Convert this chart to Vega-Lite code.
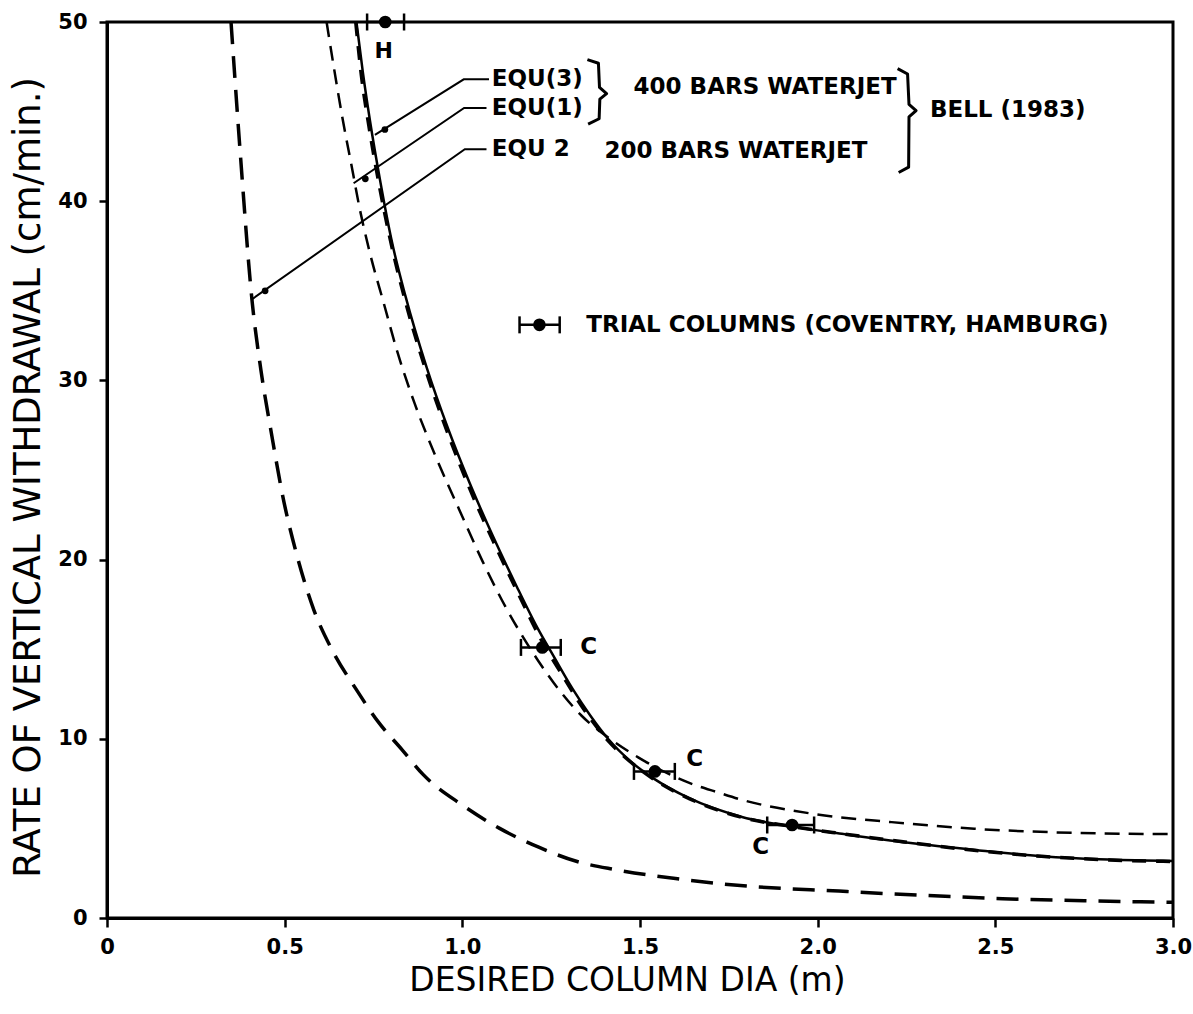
{
  "$schema": "https://vega.github.io/schema/vega-lite/v6.json",
  "width": 1066,
  "height": 896,
  "autosize": {"type": "none"},
  "padding": {"left": 107, "top": 22, "right": 20, "bottom": 96},
  "background": "white",
  "config": {
    "view": {"stroke": "black", "strokeWidth": 3},
    "font": "DejaVu Sans",
    "text": {"font": "DejaVu Sans", "color": "black"}
  },
  "datasets": {
    "curves": [
      {"curve": "EQU2", "x": 0.349, "y": 50},
      {"curve": "EQU2", "x": 0.375, "y": 42.7},
      {"curve": "EQU2", "x": 0.409, "y": 34.3},
      {"curve": "EQU2", "x": 0.433, "y": 30.6},
      {"curve": "EQU2", "x": 0.464, "y": 26.9},
      {"curve": "EQU2", "x": 0.494, "y": 23.6},
      {"curve": "EQU2", "x": 0.535, "y": 20.2},
      {"curve": "EQU2", "x": 0.582, "y": 17.2},
      {"curve": "EQU2", "x": 0.635, "y": 14.9},
      {"curve": "EQU2", "x": 0.70, "y": 12.8},
      {"curve": "EQU2", "x": 0.765, "y": 10.9},
      {"curve": "EQU2", "x": 0.83, "y": 9.4},
      {"curve": "EQU2", "x": 0.89, "y": 8.0},
      {"curve": "EQU2", "x": 1.0, "y": 6.3},
      {"curve": "EQU2", "x": 1.105, "y": 5.0},
      {"curve": "EQU2", "x": 1.215, "y": 3.95},
      {"curve": "EQU2", "x": 1.323, "y": 3.15},
      {"curve": "EQU2", "x": 1.43, "y": 2.7},
      {"curve": "EQU2", "x": 1.60, "y": 2.2},
      {"curve": "EQU2", "x": 1.80, "y": 1.78},
      {"curve": "EQU2", "x": 2.06, "y": 1.5},
      {"curve": "EQU2", "x": 2.29, "y": 1.27},
      {"curve": "EQU2", "x": 2.52, "y": 1.08},
      {"curve": "EQU2", "x": 2.75, "y": 0.96},
      {"curve": "EQU2", "x": 3.0, "y": 0.88},

      {"curve": "EQU1", "x": 0.618, "y": 50},
      {"curve": "EQU1", "x": 0.639, "y": 47.4},
      {"curve": "EQU1", "x": 0.663, "y": 44.6},
      {"curve": "EQU1", "x": 0.690, "y": 41.8},
      {"curve": "EQU1", "x": 0.710, "y": 39.7},
      {"curve": "EQU1", "x": 0.740, "y": 37.1},
      {"curve": "EQU1", "x": 0.779, "y": 34.3},
      {"curve": "EQU1", "x": 0.817, "y": 31.6},
      {"curve": "EQU1", "x": 0.866, "y": 28.7},
      {"curve": "EQU1", "x": 0.924, "y": 25.8},
      {"curve": "EQU1", "x": 0.991, "y": 22.8},
      {"curve": "EQU1", "x": 1.057, "y": 19.9},
      {"curve": "EQU1", "x": 1.126, "y": 17.2},
      {"curve": "EQU1", "x": 1.17, "y": 15.7},
      {"curve": "EQU1", "x": 1.212, "y": 14.4},
      {"curve": "EQU1", "x": 1.258, "y": 13.1},
      {"curve": "EQU1", "x": 1.335, "y": 11.3},
      {"curve": "EQU1", "x": 1.419, "y": 9.95},
      {"curve": "EQU1", "x": 1.496, "y": 8.95},
      {"curve": "EQU1", "x": 1.637, "y": 7.55},
      {"curve": "EQU1", "x": 1.721, "y": 7.0},
      {"curve": "EQU1", "x": 1.786, "y": 6.6},
      {"curve": "EQU1", "x": 1.975, "y": 5.85},
      {"curve": "EQU1", "x": 2.208, "y": 5.35},
      {"curve": "EQU1", "x": 2.441, "y": 4.98},
      {"curve": "EQU1", "x": 2.722, "y": 4.75},
      {"curve": "EQU1", "x": 3.0, "y": 4.68},

      {"curve": "EQU3", "x": 0.702, "y": 50},
      {"curve": "EQU3", "x": 0.72, "y": 47.2},
      {"curve": "EQU3", "x": 0.74, "y": 44.5},
      {"curve": "EQU3", "x": 0.77, "y": 41.0},
      {"curve": "EQU3", "x": 0.80, "y": 37.9},
      {"curve": "EQU3", "x": 0.84, "y": 34.7},
      {"curve": "EQU3", "x": 0.90, "y": 30.7},
      {"curve": "EQU3", "x": 0.96, "y": 27.3},
      {"curve": "EQU3", "x": 1.02, "y": 24.3},
      {"curve": "EQU3", "x": 1.084, "y": 21.4},
      {"curve": "EQU3", "x": 1.153, "y": 18.5},
      {"curve": "EQU3", "x": 1.211, "y": 16.2},
      {"curve": "EQU3", "x": 1.26, "y": 14.5},
      {"curve": "EQU3", "x": 1.31, "y": 12.8},
      {"curve": "EQU3", "x": 1.36, "y": 11.3},
      {"curve": "EQU3", "x": 1.41, "y": 10.0},
      {"curve": "EQU3", "x": 1.476, "y": 8.7},
      {"curve": "EQU3", "x": 1.541, "y": 7.75},
      {"curve": "EQU3", "x": 1.637, "y": 6.7},
      {"curve": "EQU3", "x": 1.787, "y": 5.64},
      {"curve": "EQU3", "x": 1.928, "y": 5.1},
      {"curve": "EQU3", "x": 2.068, "y": 4.7},
      {"curve": "EQU3", "x": 2.256, "y": 4.2},
      {"curve": "EQU3", "x": 2.442, "y": 3.8},
      {"curve": "EQU3", "x": 2.63, "y": 3.45},
      {"curve": "EQU3", "x": 2.818, "y": 3.26},
      {"curve": "EQU3", "x": 3.0, "y": 3.18},

      {"curve": "EQU3b", "x": 0.700, "y": 50},
      {"curve": "EQU3b", "x": 0.716, "y": 47.0},
      {"curve": "EQU3b", "x": 0.737, "y": 44.2},
      {"curve": "EQU3b", "x": 0.767, "y": 40.8},
      {"curve": "EQU3b", "x": 0.80, "y": 37.6},
      {"curve": "EQU3b", "x": 0.84, "y": 34.4},
      {"curve": "EQU3b", "x": 0.90, "y": 30.4},
      {"curve": "EQU3b", "x": 0.96, "y": 27.0},
      {"curve": "EQU3b", "x": 1.02, "y": 24.0},
      {"curve": "EQU3b", "x": 1.09, "y": 20.9},
      {"curve": "EQU3b", "x": 1.16, "y": 18.0},
      {"curve": "EQU3b", "x": 1.22, "y": 15.6},
      {"curve": "EQU3b", "x": 1.28, "y": 13.6},
      {"curve": "EQU3b", "x": 1.34, "y": 11.7},
      {"curve": "EQU3b", "x": 1.41, "y": 9.9},
      {"curve": "EQU3b", "x": 1.48, "y": 8.6},
      {"curve": "EQU3b", "x": 1.55, "y": 7.6},
      {"curve": "EQU3b", "x": 1.64, "y": 6.65},
      {"curve": "EQU3b", "x": 1.79, "y": 5.6},
      {"curve": "EQU3b", "x": 1.93, "y": 5.1},
      {"curve": "EQU3b", "x": 2.07, "y": 4.7},
      {"curve": "EQU3b", "x": 2.26, "y": 4.2},
      {"curve": "EQU3b", "x": 2.44, "y": 3.78},
      {"curve": "EQU3b", "x": 2.63, "y": 3.44},
      {"curve": "EQU3b", "x": 2.82, "y": 3.24},
      {"curve": "EQU3b", "x": 3.0, "y": 3.15}
    ],
    "leaders": [
      {"g": "L3", "o": 0, "x": 0.754, "y": 43.7},
      {"g": "L3", "o": 1, "x": 1.004, "y": 46.8},
      {"g": "L3", "o": 2, "x": 1.075, "y": 46.8},
      {"g": "L1", "o": 0, "x": 0.694, "y": 41.0},
      {"g": "L1", "o": 1, "x": 1.005, "y": 45.2},
      {"g": "L1", "o": 2, "x": 1.068, "y": 45.2},
      {"g": "L2", "o": 0, "x": 0.406, "y": 34.5},
      {"g": "L2", "o": 1, "x": 1.007, "y": 42.9},
      {"g": "L2", "o": 2, "x": 1.068, "y": 42.9}
    ],
    "braces": [
      {"g": "B1", "o": 0, "x": 1.352, "y": 47.9},
      {"g": "B1", "o": 1, "x": 1.383, "y": 47.7},
      {"g": "B1", "o": 2, "x": 1.386, "y": 46.35},
      {"g": "B1", "o": 3, "x": 1.406, "y": 46.0},
      {"g": "B1", "o": 4, "x": 1.387, "y": 45.7},
      {"g": "B1", "o": 5, "x": 1.385, "y": 44.6},
      {"g": "B1", "o": 6, "x": 1.354, "y": 44.3},
      {"g": "B2", "o": 0, "x": 2.225, "y": 47.4},
      {"g": "B2", "o": 1, "x": 2.253, "y": 47.1},
      {"g": "B2", "o": 2, "x": 2.257, "y": 45.4},
      {"g": "B2", "o": 3, "x": 2.277, "y": 45.06},
      {"g": "B2", "o": 4, "x": 2.257, "y": 44.7},
      {"g": "B2", "o": 5, "x": 2.256, "y": 41.9},
      {"g": "B2", "o": 6, "x": 2.228, "y": 41.6}
    ],
    "blobs": [
      {"x": 0.782, "y": 44.0},
      {"x": 0.727, "y": 41.25},
      {"x": 0.445, "y": 35.0}
    ],
    "trials": [
      {"site": "H", "x": 0.783, "y": 50, "xlo": 0.732, "xhi": 0.836},
      {"site": "C", "x": 1.225, "y": 15.1, "xlo": 1.165, "xhi": 1.277},
      {"site": "C", "x": 1.542, "y": 8.18, "xlo": 1.483, "xhi": 1.598},
      {"site": "C", "x": 1.928, "y": 5.19, "xlo": 1.858, "xhi": 1.99},
      {"site": "key", "x": 1.217, "y": 33.1, "xlo": 1.161, "xhi": 1.274}
    ],
    "labels": [
      {"text": "EQU(3)", "x": 1.083, "y": 46.8},
      {"text": "EQU(1)", "x": 1.083, "y": 45.2},
      {"text": "EQU 2", "x": 1.083, "y": 42.9},
      {"text": "400 BARS WATERJET", "x": 1.482, "y": 46.4},
      {"text": "200 BARS WATERJET", "x": 1.400, "y": 42.8},
      {"text": "BELL (1983)", "x": 2.316, "y": 45.1},
      {"text": "TRIAL COLUMNS (COVENTRY, HAMBURG)", "x": 1.349, "y": 33.1},
      {"text": "C", "x": 1.332, "y": 15.1},
      {"text": "C", "x": 1.63, "y": 8.85},
      {"text": "C", "x": 1.816, "y": 3.97}
    ],
    "hlabel": [
      {"text": "H", "x": 0.779, "y": 48.4}
    ]
  },
  "encoding": {
    "x": {
      "field": "x", "type": "quantitative",
      "title": "DESIRED  COLUMN DIA (m)",
      "scale": {"domain": [0, 3], "nice": false, "zero": false},
      "axis": {
        "values": [0, 0.5, 1, 1.5, 2, 2.5, 3],
        "labelExpr": "datum.value == 0 ? '0' : format(datum.value, '.1f')",
        "titleFontSize": 33, "titleFontWeight": "normal", "titleColor": "black",
        "titleX": 520, "titleY": 62, "titleBaseline": "middle", "titleAlign": "center",
        "domainColor": "black", "domainWidth": 3,
        "tickColor": "black", "tickWidth": 2.5, "tickSize": 9,
        "labelFontSize": 21, "labelFontWeight": "bold", "labelColor": "black", "labelPadding": 9,
        "labelFlush": false, "labelOverlap": false, "grid": false
      }
    },
    "y": {
      "field": "y", "type": "quantitative",
      "title": "RATE OF VERTICAL WITHDRAWAL (cm/min.)",
      "scale": {"domain": [0, 50], "nice": false},
      "axis": {
        "values": [0, 10, 20, 30, 40, 50],
        "titleFontSize": 37, "titleFontWeight": "normal", "titleColor": "black",
        "titleX": -79, "titleY": 455, "titleAngle": -90, "titleBaseline": "middle", "titleAlign": "center",
        "domainColor": "black", "domainWidth": 3,
        "tickColor": "black", "tickWidth": 2.5, "tickSize": 8,
        "labelFontSize": 21, "labelFontWeight": "bold", "labelColor": "black", "labelPadding": 12,
        "labelFlush": false, "grid": false
      }
    }
  },
  "layer": [
    {
      "data": {"name": "curves"},
      "transform": [{"filter": "datum.curve == 'EQU2'"}],
      "mark": {"type": "line", "color": "black", "strokeWidth": 3.5, "strokeDash": [22, 12], "interpolate": "monotone", "clip": true}
    },
    {
      "data": {"name": "curves"},
      "transform": [{"filter": "datum.curve == 'EQU1'"}],
      "mark": {"type": "line", "color": "black", "strokeWidth": 2.5, "strokeDash": [15, 9], "interpolate": "monotone", "clip": true}
    },
    {
      "data": {"name": "curves"},
      "transform": [{"filter": "datum.curve == 'EQU3'"}],
      "mark": {"type": "line", "color": "black", "strokeWidth": 2.5, "interpolate": "monotone", "clip": true}
    },
    {
      "data": {"name": "curves"},
      "transform": [{"filter": "datum.curve == 'EQU3b'"}],
      "mark": {"type": "line", "color": "black", "strokeWidth": 3.5, "strokeDash": [14, 10], "interpolate": "monotone", "clip": true}
    },
    {
      "data": {"name": "leaders"},
      "mark": {"type": "line", "color": "black", "strokeWidth": 2},
      "encoding": {
        "detail": {"field": "g"},
        "order": {"field": "o", "type": "quantitative"}
      }
    },
    {
      "data": {"name": "braces"},
      "mark": {"type": "line", "color": "black", "strokeWidth": 3, "strokeJoin": "round"},
      "encoding": {
        "detail": {"field": "g"},
        "order": {"field": "o", "type": "quantitative"}
      }
    },
    {
      "data": {"name": "blobs"},
      "mark": {"type": "point", "filled": true, "color": "black", "size": 45, "opacity": 1}
    },
    {
      "data": {"name": "trials"},
      "mark": {"type": "rule", "color": "black", "strokeWidth": 2.5},
      "encoding": {
        "x": {"field": "xlo", "type": "quantitative", "title": "DESIRED  COLUMN DIA (m)"},
        "x2": {"field": "xhi"}
      }
    },
    {
      "data": {"name": "trials"},
      "mark": {"type": "tick", "color": "black", "orient": "vertical", "thickness": 2.5, "size": 17, "opacity": 1},
      "encoding": {
        "x": {"field": "xlo", "type": "quantitative", "title": "DESIRED  COLUMN DIA (m)"}
      }
    },
    {
      "data": {"name": "trials"},
      "mark": {"type": "tick", "color": "black", "orient": "vertical", "thickness": 2.5, "size": 17, "opacity": 1},
      "encoding": {
        "x": {"field": "xhi", "type": "quantitative", "title": "DESIRED  COLUMN DIA (m)"}
      }
    },
    {
      "data": {"name": "trials"},
      "mark": {"type": "point", "filled": true, "color": "black", "size": 160, "opacity": 1}
    },
    {
      "data": {"name": "labels"},
      "mark": {"type": "text", "align": "left", "baseline": "middle", "fontSize": 23, "fontWeight": "bold", "color": "black"},
      "encoding": {"text": {"field": "text"}}
    },
    {
      "data": {"name": "hlabel"},
      "mark": {"type": "text", "align": "center", "baseline": "middle", "fontSize": 22, "fontWeight": "bold", "color": "black"},
      "encoding": {"text": {"field": "text"}}
    }
  ]
}
